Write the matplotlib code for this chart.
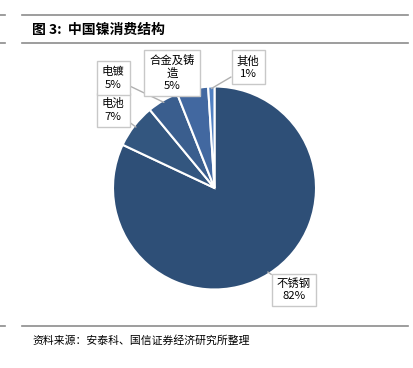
import matplotlib
matplotlib.use("Agg")
import matplotlib.pyplot as plt
from matplotlib.lines import Line2D
import numpy as np

plt.rcParams['font.family'] = ['Noto Sans CJK SC', 'DejaVu Sans']

categories = ["不锈钢", "电池", "电镀", "合金及铸\n造", "其他"]
values = [82, 7, 5, 5, 1]
colors = ["#2E4F77", "#33567F", "#3A5E8E", "#4268A0", "#5080C2"]
title = "图 3:  中国镍消费结构"
source = "资料来源：安泰科、国信证券经济研究所整理"

W, H = 413, 368
fig = plt.figure(figsize=(W / 100, H / 100), dpi=100)

def px(x, y):
    return x / W, 1 - y / H

# horizontal rules
for yy in (15, 43, 326):
    fig.add_artist(Line2D([22 / W, 408 / W], [1 - yy / H] * 2, color="#8c8c8c", lw=1.2))
    fig.add_artist(Line2D([0, 5 / W], [1 - yy / H] * 2, color="#8c8c8c", lw=1.2))

fig.text(*px(32, 30), title, fontsize=10, fontweight="bold", va="center", ha="left")
fig.text(*px(32, 340), source, fontsize=7.8, va="center", ha="left")

cx, cy, r = 214.5, 188, 101.5
ax = fig.add_axes([(cx - r) / W, (H - cy - r) / H, 2 * r / W, 2 * r / H])
wedges, _ = ax.pie(values, colors=colors, startangle=90, counterclock=False,
                   wedgeprops=dict(edgecolor="white", linewidth=1.5))
ax.set_xlim(-1, 1)
ax.set_ylim(-1, 1)
ax.axis("off")

label_pos = [(294, 290), (113, 110), (113, 78), (172, 73), (248, 67)]
for w, cat, v, (lx, ly) in zip(wedges, categories, values, label_pos):
    ang = np.deg2rad((w.theta1 + w.theta2) / 2)
    xe, ye = 0.98 * np.cos(ang), 0.98 * np.sin(ang)
    ax.annotate(f"{cat}\n{v}%", xy=(xe, ye), xycoords="data",
                xytext=px(lx, ly), textcoords="figure fraction",
                ha="center", va="center", multialignment="center",
                fontsize=8.2, linespacing=1.25,
                bbox=dict(boxstyle="square,pad=0.45", fc="white", ec="#c8c8c8", lw=1),
                arrowprops=dict(arrowstyle="-", color="#b0b0b0", lw=1,
                                shrinkA=0, shrinkB=0),
                annotation_clip=False)

fig.savefig("out.png", dpi=100)
